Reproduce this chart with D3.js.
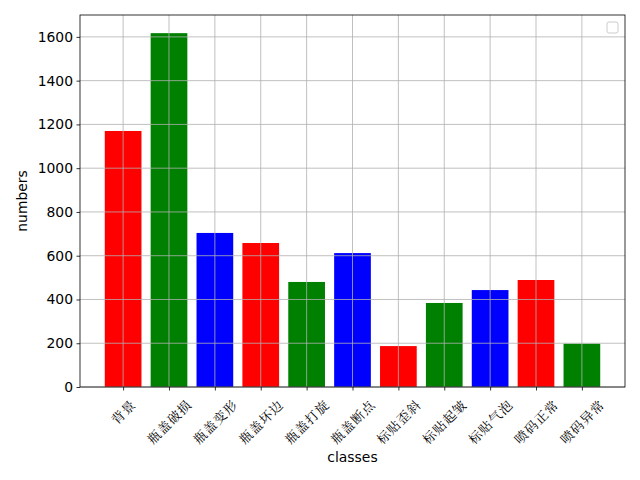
<!DOCTYPE html>
<html><head><meta charset="utf-8">
<script src="https://cdn.jsdelivr.net/npm/d3@7"></script>
<style>body{margin:0;background:#fff}svg{display:block}</style>
</head><body>
<svg id="c" width="640" height="480"></svg>
<script>
const categories = ["背景","瓶盖破损","瓶盖变形","瓶盖坏边","瓶盖打旋","瓶盖断点","标贴歪斜","标贴起皱","标贴气泡","喷码正常","喷码异常"];
const values = [1170,1617,704,658,480,612,187,384,443,489,198];
const barColors = ["red","green","blue"];
const yTicks = [0,200,400,600,800,1000,1200,1400,1600];

const svg = d3.select("#c");
const L = 80, R = 625, T = 15, B = 387;
const n = categories.length;
const x = d3.scaleLinear().domain([-0.94, n - 1 + 0.94]).range([L, R]);
const y = d3.scaleLinear().domain([0, 1700]).range([B, T]);
const bw = 0.8;

svg.append("g").selectAll("rect").data(values).join("rect")
  .attr("x", (d,i) => x(i - bw/2)).attr("width", x(bw) - x(0))
  .attr("y", d => y(d)).attr("height", d => B - y(d))
  .attr("fill", (d,i) => barColors[i % 3]);

// grid
const grid = svg.append("g").attr("stroke", "#b0b0b0").attr("stroke-width", 0.8);
categories.forEach((c,i) => grid.append("line").attr("x1", x(i)).attr("x2", x(i)).attr("y1", T).attr("y2", B));
yTicks.forEach(t => grid.append("line").attr("x1", L).attr("x2", R).attr("y1", y(t)).attr("y2", y(t)));

// axes
const yAxis = d3.axisLeft(y).tickValues(yTicks).tickFormat(d3.format("d")).tickSize(3.5).tickPadding(3.5);
const gy = svg.append("g").attr("transform", `translate(${L},0)`).call(yAxis);
gy.select(".domain").remove();
gy.selectAll("text").attr("font-family", "DejaVu Sans").attr("font-size", "13.9px").attr("fill", "#000");
gy.selectAll("line").attr("stroke", "#000").attr("stroke-width", 0.8);

const xAxis = d3.axisBottom(x).tickValues(d3.range(n)).tickSize(3.5).tickFormat("");
const gx = svg.append("g").attr("transform", `translate(0,${B})`).call(xAxis);
gx.select(".domain").remove();
gx.selectAll("line").attr("stroke", "#000").attr("stroke-width", 0.8);

// rotated labels
const fs = 13;
categories.forEach((c,i) => {
  const t = svg.append("text").text(c)
    .attr("font-family", "'Noto Serif CJK SC','Noto Sans CJK SC'")
    .attr("font-size", fs + "px")
    .attr("letter-spacing", "1px")
    .attr("text-anchor", "middle").attr("dominant-baseline", "central")
    .attr("fill", "#000");
  const len = t.node().getComputedTextLength();
  const h = (len + fs) * Math.SQRT1_2;
  t.attr("transform", `translate(${x(i)},${397 + h/2}) rotate(-45)`);
});

// frame
svg.append("rect").attr("x", L).attr("y", T).attr("width", R - L).attr("height", B - T)
  .attr("fill", "none").attr("stroke", "#000").attr("stroke-width", 0.8);

// empty legend
svg.append("rect").attr("x", 607).attr("y", 22).attr("width", 11).attr("height", 11).attr("rx", 2)
  .attr("fill", "#fff").attr("stroke", "#cccccc").attr("stroke-width", 1);

svg.append("text").text("classes").attr("x", (L + R)/2).attr("y", 462)
  .attr("text-anchor", "middle").attr("font-family", "DejaVu Sans").attr("font-size", "13.9px");
svg.append("text").text("numbers").attr("transform", `translate(27,${(T + B)/2}) rotate(-90)`)
  .attr("text-anchor", "middle").attr("font-family", "DejaVu Sans").attr("font-size", "13.9px");
</script>
</body></html>
